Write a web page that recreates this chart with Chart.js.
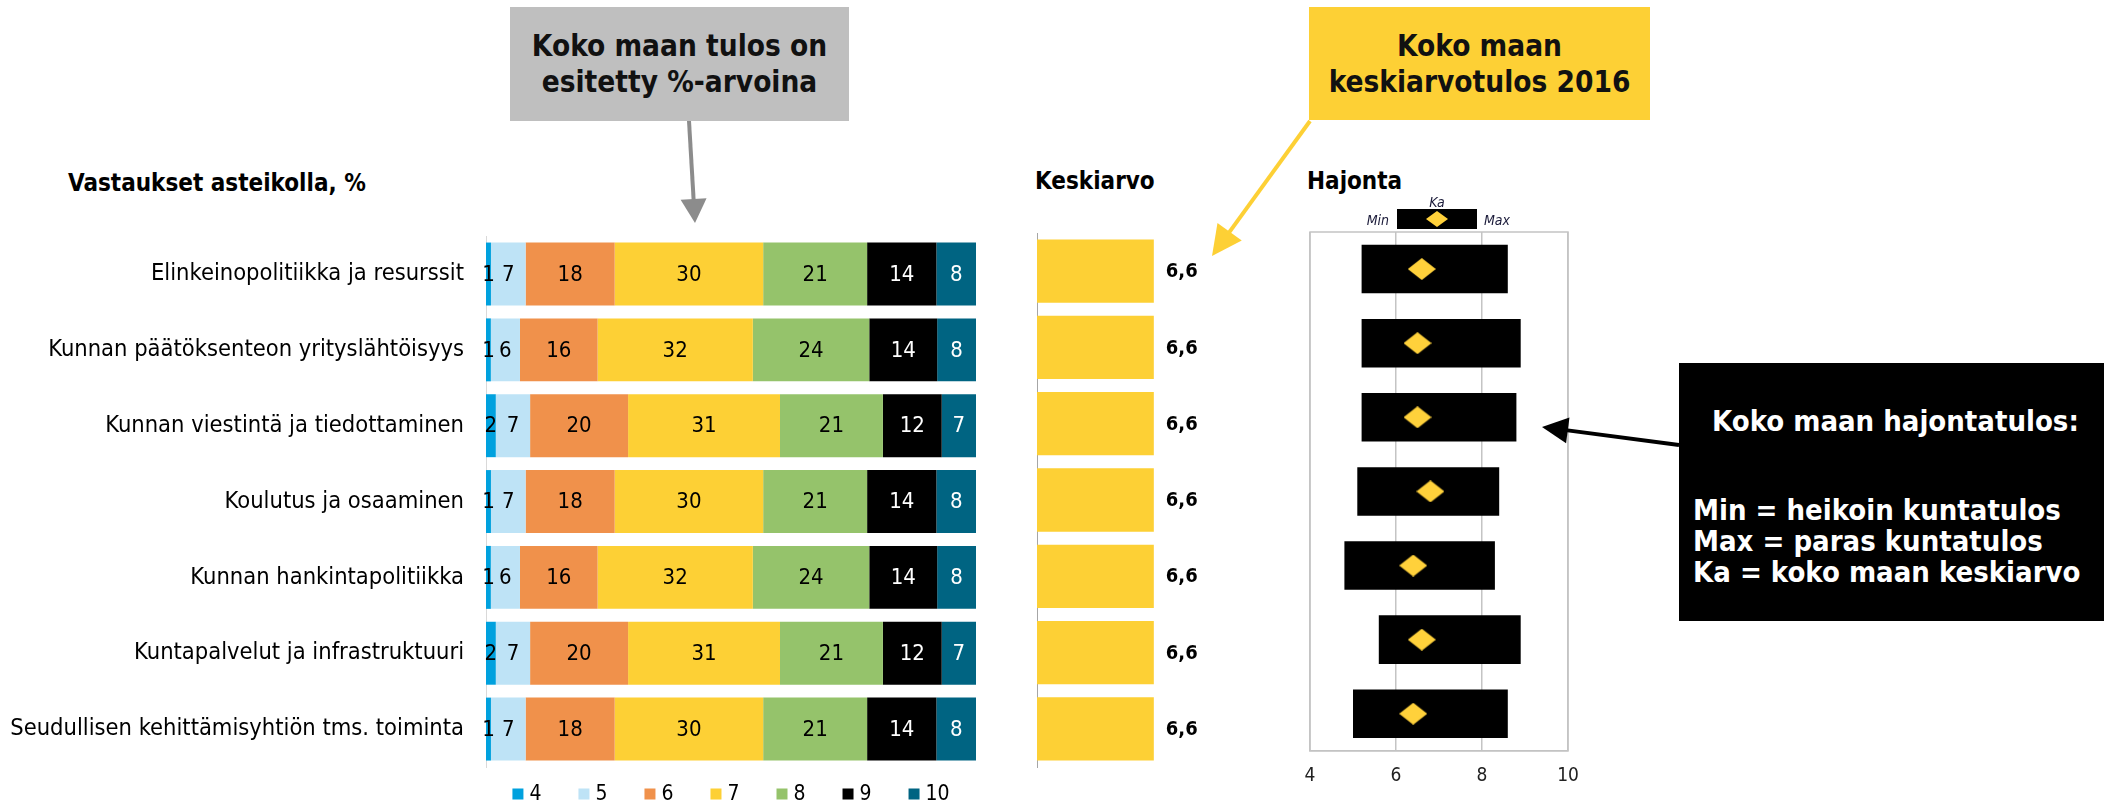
<!DOCTYPE html>
<html lang="fi">
<head>
<meta charset="utf-8">
<title>Vastaukset asteikolla</title>
<script src="https://cdn.jsdelivr.net/npm/chart.js@4.4.1/dist/chart.umd.min.js"></script>
<style>
  html, body { margin: 0; padding: 0; background: #fff; }
  body {
    width: 2110px; height: 806px; position: relative; overflow: hidden;
    font-family: 'DejaVu Sans Condensed', 'DejaVu Sans', sans-serif; color: #000;
  }
  .abs { position: absolute; }
  .title { font-weight: bold; font-size: 24px; line-height: 1.2; white-space: nowrap; }
  .note {
    display: flex; flex-direction: column; justify-content: center; align-items: center;
    font-weight: bold; font-size: 29.5px; line-height: 36px; text-align: center; color: #111;
  }
  .info { font-weight: bold; font-size: 29px; line-height: 31px; color: #fff; white-space: nowrap; }
</style>
</head>
<body>

<div class="abs title" style="left:68px; top:169px;">Vastaukset asteikolla, %</div>
<div class="abs title" style="left:1035px; top:167px;">Keskiarvo</div>
<div class="abs title" style="left:1307px; top:167px;">Hajonta</div>

<canvas id="mainChart" class="abs" width="1000" height="606" style="left:0; top:200px;"></canvas>
<canvas id="meanChart" class="abs" width="250" height="606" style="left:1000px; top:200px;"></canvas>
<canvas id="rangeChart" class="abs" width="400" height="606" style="left:1250px; top:200px;"></canvas>

<div class="abs note" style="left:510px; top:7px; width:339px; height:114px; background:#bfbfbf;">
  <div>Koko maan tulos on</div><div>esitetty %-arvoina</div>
</div>
<div class="abs note" style="left:1309px; top:7px; width:341px; height:113px; background:#fdd035;">
  <div>Koko maan</div><div>keskiarvotulos 2016</div>
</div>
<div class="abs" style="left:1679px; top:363px; width:425px; height:258px; background:#000;"></div>
<div class="abs info" style="left:1712px; top:406px;">Koko maan hajontatulos:</div>
<div class="abs info" style="left:1693px; top:495px;">
  Min = heikoin kuntatulos<br>Max = paras kuntatulos<br>Ka = koko maan keskiarvo
</div>

<svg id="overlay" class="abs" width="2110" height="806" style="left:0; top:0; pointer-events:none;"></svg>

<script>
const FONT = "'DejaVu Sans Condensed', 'DejaVu Sans', sans-serif";

// rivit
const categories = [
  "Elinkeinopolitiikka ja resurssit",
  "Kunnan päätöksenteon yrityslähtöisyys",
  "Kunnan viestintä ja tiedottaminen",
  "Koulutus ja osaaminen",
  "Kunnan hankintapolitiikka",
  "Kuntapalvelut ja infrastruktuuri",
  "Seudullisen kehittämisyhtiön tms. toiminta"
];

// vastaukset asteikolla 4..10, %
const scaleLabels = ["4", "5", "6", "7", "8", "9", "10"];
const share4  = [1, 1, 2, 1, 1, 2, 1];
const share5  = [7, 6, 7, 7, 6, 7, 7];
const share6  = [18, 16, 20, 18, 16, 20, 18];
const share7  = [30, 32, 31, 30, 32, 31, 30];
const share8  = [21, 24, 21, 21, 24, 21, 21];
const share9  = [14, 14, 12, 14, 14, 12, 14];
const share10 = [8, 8, 7, 8, 8, 7, 8];

// keskiarvo
const keskiarvo = [6.6, 6.6, 6.6, 6.6, 6.6, 6.6, 6.6];

// hajonta (min, max, ka)
const hajontaMin = [5.2, 5.2, 5.2, 5.1, 4.8, 5.6, 5.0];
const hajontaMax = [8.6, 8.9, 8.8, 8.4, 8.3, 8.9, 8.6];
const hajontaKa  = [6.6, 6.5, 6.5, 6.8, 6.4, 6.6, 6.4];
const hajontaTicks = [4, 6, 8, 10];

const scaleColors = ["#00a1de", "#bee3f6", "#f0914b", "#fdd035", "#95c36b", "#000000", "#006482"];
const YELLOW = "#fdd035";

// 100 % pinottu: jokainen rivi skaalataan täyteen leveyteen, näytetään alkuperäinen luku
const shares = [share4, share5, share6, share7, share8, share9, share10];
const rowTotals = categories.map((_, r) => shares.reduce((s, a) => s + a[r], 0));

const stackedSets = shares.map((arr, k) => ({
  label: scaleLabels[k],
  data: arr.map((v, r) => v / rowTotals[r] * 100),
  shown: arr,
  backgroundColor: scaleColors[k],
  textColor: k >= 5 ? "#fff" : "#000",
  barPercentage: 0.83,
  categoryPercentage: 1,
  stack: "s"
}));

const segmentLabels = {
  id: "segmentLabels",
  afterDatasetsDraw(chart) {
    const ctx = chart.ctx;
    ctx.save();
    ctx.font = "22px " + FONT;
    ctx.textAlign = "center";
    ctx.textBaseline = "middle";
    chart.data.datasets.forEach((ds, i) => {
      chart.getDatasetMeta(i).data.forEach((bar, j) => {
        ctx.fillStyle = ds.textColor;
        ctx.fillText(String(ds.shown[j]), (bar.x + bar.base) / 2, bar.y + 1);
      });
    });
    ctx.restore();
  }
};

// oma selite kuvion alle
const bottomLegend = {
  id: "bottomLegend",
  afterDraw(chart) {
    const ctx = chart.ctx;
    const area = chart.chartArea;
    const box = 11, gap = 6, space = 37;
    ctx.save();
    ctx.font = "21px " + FONT;
    ctx.textBaseline = "middle";
    const widths = chart.data.datasets.map(ds => box + gap + ctx.measureText(ds.label).width);
    const total = widths.reduce((a, b) => a + b, 0) + space * (widths.length - 1);
    let x = (area.left + area.right) / 2 - total / 2;
    const y = 594;
    chart.data.datasets.forEach((ds, i) => {
      ctx.fillStyle = ds.backgroundColor;
      ctx.fillRect(x, y - box / 2, box, box);
      ctx.fillStyle = "#000";
      ctx.fillText(ds.label, x + box + gap, y + 1);
      x += widths[i] + space;
    });
    ctx.restore();
  }
};

new Chart(document.getElementById("mainChart"), {
  type: "bar",
  data: { labels: categories, datasets: stackedSets },
  options: {
    indexAxis: "y",
    responsive: false,
    animation: false,
    devicePixelRatio: 1,
    layout: { padding: { top: 33, bottom: 39, right: 24, left: 0 } },
    plugins: { legend: { display: false }, tooltip: { enabled: false } },
    scales: {
      x: { stacked: true, min: 0, max: 100, display: false },
      y: {
        stacked: true,
        grid: { display: false, drawTicks: false },
        border: { display: true, color: "#d9d9d9", width: 1 },
        ticks: { color: "#000", font: { family: FONT, size: 23.5 }, padding: 22, autoSkip: false },
        afterFit(scale) { scale.width = 486; }
      }
    }
  },
  plugins: [segmentLabels, bottomLegend]
});

// keskiarvo
const meanLabels = {
  id: "meanLabels",
  afterDatasetsDraw(chart) {
    const ctx = chart.ctx;
    ctx.save();
    ctx.font = "bold 20px " + FONT;
    ctx.fillStyle = "#000";
    ctx.textAlign = "left";
    ctx.textBaseline = "middle";
    chart.getDatasetMeta(0).data.forEach((bar, j) => {
      ctx.fillText(keskiarvo[j].toFixed(1).replace(".", ","), bar.x + 12, bar.y + 1);
    });
    ctx.restore();
  }
};

new Chart(document.getElementById("meanChart"), {
  type: "bar",
  data: {
    labels: categories,
    datasets: [{
      label: "Keskiarvo",
      data: keskiarvo,
      backgroundColor: YELLOW,
      barPercentage: 0.83,
      categoryPercentage: 1
    }]
  },
  options: {
    indexAxis: "y",
    responsive: false,
    animation: false,
    devicePixelRatio: 1,
    layout: { padding: { top: 33, bottom: 39, right: 36, left: 0 } },
    plugins: { legend: { display: false }, tooltip: { enabled: false } },
    scales: {
      x: { min: 0, max: 10, display: false },
      y: {
        grid: { display: false, drawTicks: false },
        border: { display: true, color: "#a6a6a6", width: 1 },
        ticks: { display: false },
        afterFit(scale) { scale.width = 37; }
      }
    }
  },
  plugins: [meanLabels]
});

// hajonta
const diamond = document.createElement("canvas");
diamond.width = 28;
diamond.height = 22;
(function () {
  const c = diamond.getContext("2d");
  c.fillStyle = "#ffd13b";
  c.beginPath();
  c.moveTo(14, 0); c.lineTo(28, 11); c.lineTo(14, 22); c.lineTo(0, 11);
  c.closePath();
  c.fill();
})();

const frameBox = {
  id: "frameBox",
  beforeDatasetsDraw(chart) {
    const a = chart.chartArea;
    const ctx = chart.ctx;
    ctx.save();
    ctx.strokeStyle = "#c4c4c4";
    ctx.lineWidth = 1.5;
    ctx.strokeRect(a.left, a.top, a.right - a.left, a.bottom - a.top);
    ctx.restore();
  }
};

new Chart(document.getElementById("rangeChart"), {
  type: "bar",
  data: {
    labels: categories,
    datasets: [
      {
        type: "line",
        label: "Ka",
        data: hajontaKa,
        showLine: false,
        pointStyle: diamond,
        pointRadius: 12
      },
      {
        type: "bar",
        label: "Min–Max",
        data: hajontaMin.map((v, i) => [v, hajontaMax[i]]),
        backgroundColor: "#000",
        barPercentage: 0.655,
        categoryPercentage: 1
      }
    ]
  },
  options: {
    indexAxis: "y",
    responsive: false,
    animation: false,
    devicePixelRatio: 1,
    layout: { padding: { top: 32, bottom: 4.4, right: 82, left: 60 } },
    plugins: { legend: { display: false }, tooltip: { enabled: false } },
    scales: {
      x: {
        min: hajontaTicks[0],
        max: hajontaTicks[hajontaTicks.length - 1],
        afterBuildTicks(scale) { scale.ticks = hajontaTicks.map(v => ({ value: v })); },
        grid: { color: "#c4c4c4", lineWidth: 1.5, drawTicks: false },
        border: { display: true, color: "#c4c4c4", width: 1.5 },
        ticks: { color: "#222", font: { family: FONT, size: 19 }, padding: 14 }
      },
      y: { display: false }
    }
  },
  plugins: [frameBox]
});

// nuolet ja pieni selite
const svg = document.getElementById("overlay");
const NS = "http://www.w3.org/2000/svg";

function el(name, attrs, text) {
  const e = document.createElementNS(NS, name);
  for (const k in attrs) e.setAttribute(k, attrs[k]);
  if (text) e.textContent = text;
  svg.appendChild(e);
  return e;
}

function arrow(x1, y1, x2, y2, color, width, headLen, headW) {
  const dx = x2 - x1, dy = y2 - y1, len = Math.hypot(dx, dy);
  const ux = dx / len, uy = dy / len;
  const bx = x2 - ux * headLen, by = y2 - uy * headLen;
  el("line", { x1: x1, y1: y1, x2: bx + ux * 2, y2: by + uy * 2, stroke: color, "stroke-width": width });
  const pts = [
    [x2, y2],
    [bx - uy * headW / 2, by + ux * headW / 2],
    [bx + uy * headW / 2, by - ux * headW / 2]
  ].map(p => p.join(",")).join(" ");
  el("polygon", { points: pts, fill: color });
}

arrow(689, 121, 695, 223, "#8c8c8c", 4, 24, 26);
arrow(1310, 121, 1212, 256, YELLOW, 4, 30, 30);
arrow(1679, 445, 1542, 427, "#000", 4, 26, 26);

el("rect", { x: 1397, y: 209, width: 80, height: 20, fill: "#000" });
el("polygon", { points: "1437,211 1448,219 1437,227 1426,219", fill: "#ffd13b" });
const small = { "font-family": FONT, "font-size": 14, "font-style": "italic", fill: "#1b1b3a" };
el("text", Object.assign({ x: 1437, y: 207, "text-anchor": "middle" }, small), "Ka");
el("text", Object.assign({ x: 1389, y: 225, "text-anchor": "end" }, small), "Min");
el("text", Object.assign({ x: 1484, y: 225, "text-anchor": "start" }, small), "Max");
</script>
</body>
</html>
